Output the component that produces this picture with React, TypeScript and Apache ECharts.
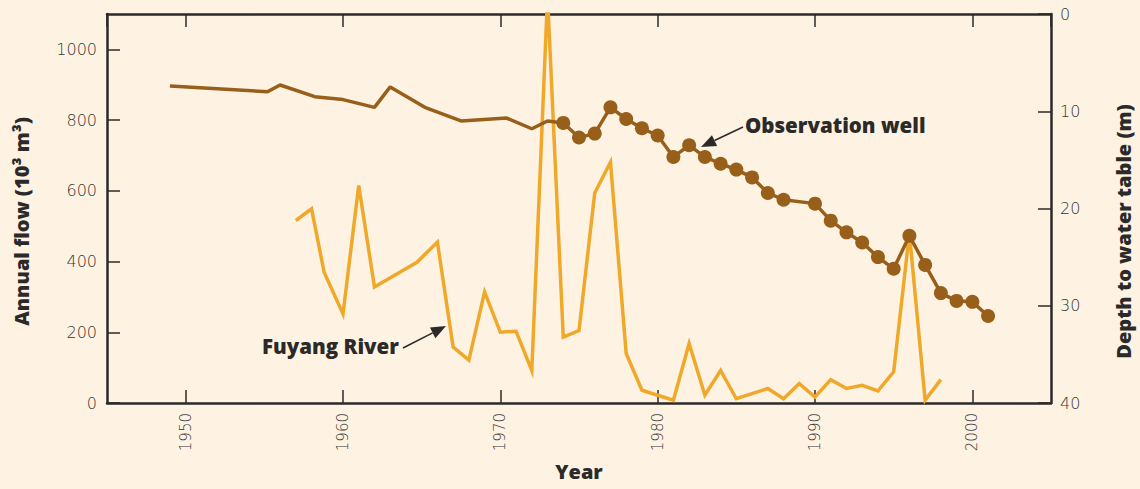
import React, { useEffect, useRef } from "react";
import * as echarts from "echarts";

// Fuyang River annual flow (10^3 m^3), left axis
const riverYears = [1957, 1958, 1958.8, 1960, 1961, 1962, 1964.7, 1966, 1967, 1968, 1969, 1970, 1971, 1972, 1973, 1974, 1975, 1976, 1977, 1978, 1979, 1980, 1981, 1982, 1983, 1984, 1985, 1987, 1988, 1989, 1990, 1991, 1992, 1993, 1994, 1995, 1996, 1997, 1998];
const riverFlow = [516, 549, 370, 252, 615, 328, 398, 455, 158, 121, 314, 200, 203, 92, 1150, 186, 205, 594, 681, 140, 36, 22, 8, 168, 22, 92, 12, 41, 12, 55, 17, 66, 41, 50, 34, 88, 480, 8, 66];

// Observation well depth to water table (m), right axis
const wellEarlyYears = [1949, 1955.2, 1956, 1958.2, 1960, 1962, 1963, 1965.2, 1967.5, 1970.4, 1972, 1973];
const wellEarlyDepth = [7.4, 8.0, 7.3, 8.5, 8.8, 9.6, 7.5, 9.6, 11.0, 10.7, 11.8, 11.0];
const wellObsYears = [1974, 1975, 1976, 1977, 1978, 1979, 1980, 1981, 1982, 1983, 1984, 1985, 1986, 1987, 1988, 1990, 1991, 1992, 1993, 1994, 1995, 1996, 1997, 1998, 1999, 2000, 2001];
const wellObsDepth = [11.2, 12.7, 12.3, 9.6, 10.8, 11.75, 12.5, 14.7, 13.5, 14.7, 15.4, 16.0, 16.8, 18.4, 19.1, 19.5, 21.25, 22.45, 23.5, 25.0, 26.2, 22.8, 25.8, 28.7, 29.5, 29.6, 31.05];

const BG = "#FEF3E2";
const BROWN = "#975F1A";
const GOLD = "#F0A82B";
const INK = "#2B2A29";
const LABEL = "#363636";

function arrow(tail: number[], tip: number[]) {
  const dx = tip[0] - tail[0];
  const dy = tip[1] - tail[1];
  const L = Math.hypot(dx, dy);
  const ux = dx / L, uy = dy / L;
  const len = 15, half = 6;
  const bx = tip[0] - ux * len, by = tip[1] - uy * len;
  return [
    { type: "line", shape: { x1: tail[0], y1: tail[1], x2: bx, y2: by }, style: { stroke: INK, lineWidth: 1.5 } },
    {
      type: "polygon",
      shape: { points: [tip, [bx - uy * half, by + ux * half], [bx + uy * half, by - ux * half]] },
      style: { fill: INK },
    },
  ];
}

export default function App() {
  const ref = useRef<HTMLDivElement>(null);
  useEffect(() => {
    const chart = echarts.init(ref.current!, null, { renderer: "svg" });
    const river = riverYears.map((y, i) => [y, riverFlow[i]]);
    const well = [
      ...wellEarlyYears.map((y, i) => ({ value: [y, wellEarlyDepth[i]], symbol: "none" })),
      ...wellObsYears.map((y, i) => ({ value: [y, wellObsDepth[i]] })),
    ];
    const tickStyle = { show: true, inside: true, length: 13, lineStyle: { color: INK, width: 1.5 } };
    const lineStyle = { show: true, lineStyle: { color: INK, width: 2.5 } };
    const labelFont = { fontFamily: "DejaVu Sans", fontSize: 16, color: LABEL, fontWeight: 300 as any };
    const NAME_FAMILY = "Open Sans";
    const nameFont = { fontFamily: NAME_FAMILY, fontWeight: 800 as any, fontSize: 20, color: INK };
    const annFont = { fontFamily: NAME_FAMILY, fontWeight: 800 as any, fontSize: 20.5 };
    chart.setOption({
      animation: false,
      backgroundColor: BG,
      grid: { left: 107, right: 89, top: 14, bottom: 86, outerBoundsMode: "none", containLabel: false },
      xAxis: [
        {
          type: "value", min: 1945, max: 2005, position: "bottom",
          axisLine: lineStyle, axisTick: tickStyle, splitLine: { show: false },
          axisLabel: { ...labelFont, fontSize: 15, rotate: 90, margin: 10, showMinLabel: false, showMaxLabel: false, formatter: (v: number) => String(v) },
          name: "Year", nameLocation: "middle", nameGap: 58, nameTextStyle: nameFont,
        },
        {
          type: "value", min: 1945, max: 2005, position: "top",
          axisLine: lineStyle, axisTick: tickStyle, splitLine: { show: false }, axisLabel: { show: false },
        },
      ],
      yAxis: [
        {
          type: "value", min: 0, max: 1100, interval: 200, position: "left",
          axisLine: lineStyle, axisTick: tickStyle, splitLine: { show: false },
          axisLabel: { ...labelFont, margin: 10, showMaxLabel: false, formatter: (v: number) => String(v) },
          name: "Annual flow (10³ m³)", nameLocation: "middle", nameGap: 76, nameRotate: 90,
          nameTextStyle: { ...nameFont, padding: [0, 26, 0, 0] },
        },
        {
          type: "value", min: 0, max: 40, interval: 10, inverse: true, position: "right",
          axisLine: lineStyle, axisTick: tickStyle, splitLine: { show: false },
          axisLabel: { ...labelFont, margin: 9 },
          name: "Depth to water table (m)", nameLocation: "middle", nameGap: 62, nameRotate: 90,
          nameTextStyle: { ...nameFont, padding: [0, 46, 0, 0] },
        },
      ],
      series: [
        {
          name: "Fuyang River", type: "line", xAxisIndex: 0, yAxisIndex: 0, data: river,
          showSymbol: false, symbol: "none", clip: true,
          lineStyle: { color: GOLD, width: 3.5, join: "miter", miterLimit: 6 },
        },
        {
          name: "Observation well", type: "line", xAxisIndex: 0, yAxisIndex: 1, data: well,
          symbol: "circle", symbolSize: 14, showAllSymbol: true,
          itemStyle: { color: BROWN },
          lineStyle: { color: BROWN, width: 3.5 },
        },
      ],
      graphic: [
        { type: "text", style: { text: "Observation well", x: 745, y: 125, align: "left", verticalAlign: "middle", fill: INK, ...annFont } },
        { type: "text", style: { text: "Fuyang River", x: 262, y: 346, align: "left", verticalAlign: "middle", fill: INK, ...annFont } },
        ...arrow([743, 127], [701, 147]),
        ...arrow([403, 348], [446, 326]),
      ],
    });
    return () => chart.dispose();
  }, []);
  return <div ref={ref} style={{ position: "absolute", left: 0, top: 0, width: 1140, height: 489, background: BG }} />;
}
